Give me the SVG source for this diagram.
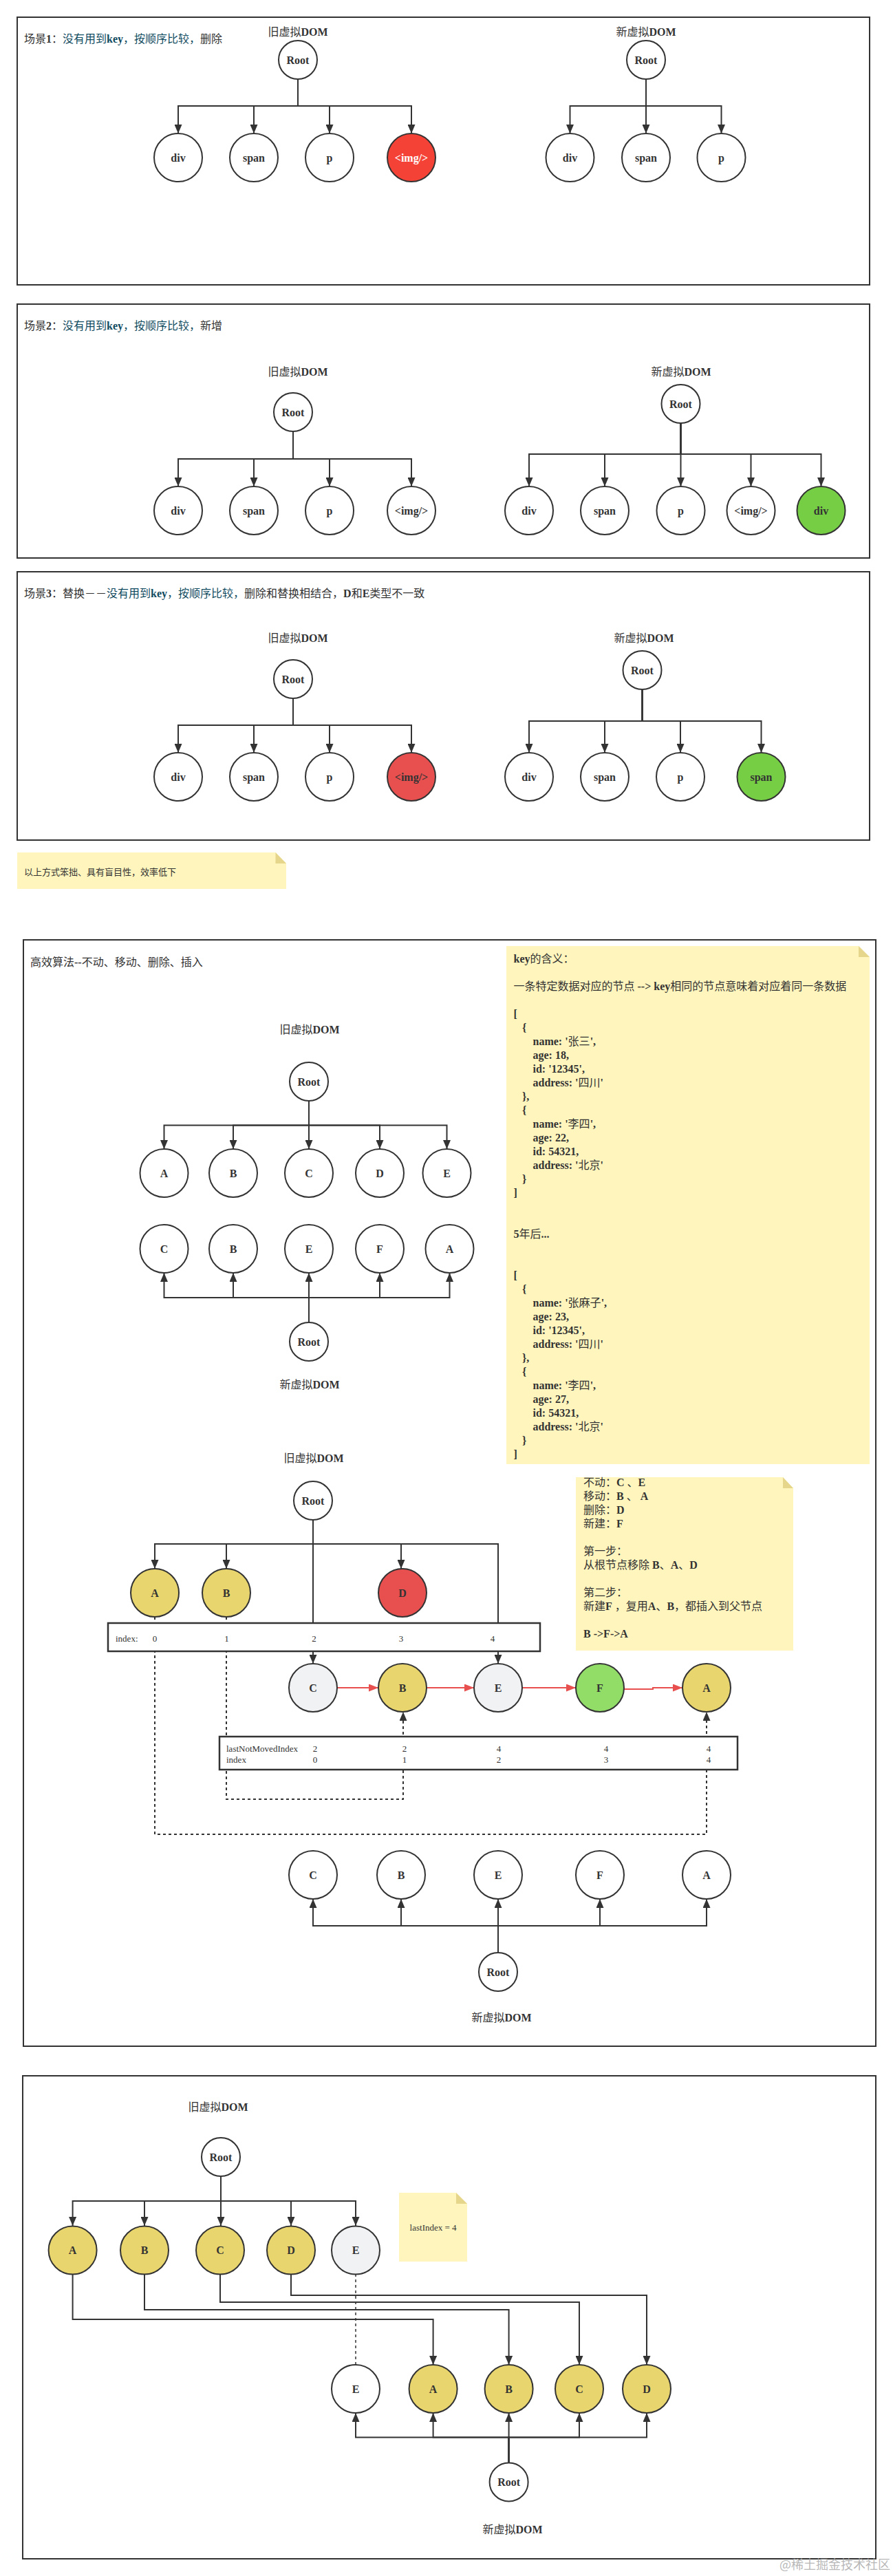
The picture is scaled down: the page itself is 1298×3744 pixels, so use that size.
<svg xmlns="http://www.w3.org/2000/svg" width="1298" height="3744" viewBox="0 0 1298 3744">
<style>
text{font-family:"Liberation Serif","Noto Sans CJK SC",serif;font-size:16px;fill:#333}
.b{font-weight:bold}
.m{text-anchor:middle}
.s{font-size:13px}
.t{fill:#114b5f}
.fr{fill:#fff;stroke:#333;stroke-width:2}
.box{fill:#fff;stroke:#333;stroke-width:2.5}
.n{fill:#fff;stroke:#333;stroke-width:2}
.y{fill:#e8d56e}
.r{fill:#e85050}
.r0{fill:#f44336}
.g{fill:#76ce45}
.g2{fill:#92dc68}
.e{fill:#f1f2f3}
.note{fill:#fff5bd}
.fold{fill:#e6d68c}
.c path{fill:none;stroke:#333;stroke-width:2}
.c .a{marker-end:url(#ah)}
.c .d{stroke-dasharray:4 4}
.c .rd{stroke:#e85050;marker-end:url(#rh)}
</style>
<defs>
<marker id="ah" markerUnits="userSpaceOnUse" markerWidth="13" markerHeight="11" refX="13" refY="5.5" orient="auto"><path d="M0 0L13 5.5L0 11z" fill="#333"/></marker>
<marker id="rh" markerUnits="userSpaceOnUse" markerWidth="14" markerHeight="11" refX="14" refY="5.5" orient="auto"><path d="M0 0L14 5.5L0 11z" fill="#e85050"/></marker>
</defs>
<rect width="1298" height="3744" fill="#fff"/>
<g id="frames">
<rect class="fr" x="25" y="25" width="1239" height="389"/>
<rect class="fr" x="25" y="442" width="1239" height="369"/>
<rect class="fr" x="25" y="831" width="1239" height="390"/>
<rect class="fr" x="34" y="1366" width="1239" height="1608"/>
<rect class="fr" x="33" y="3017" width="1240" height="702"/>
</g>
<g id="titles">
<text x="35" y="62">场景<tspan class="b">1</tspan>：<tspan class="t">没有用到<tspan class="b">key</tspan>，按顺序比较，</tspan>删除</text>
<text x="35" y="479">场景<tspan class="b">2</tspan>：<tspan class="t">没有用到<tspan class="b">key</tspan>，按顺序比较，</tspan>新增</text>
<text x="35" y="868">场景<tspan class="b">3</tspan>：替换－－<tspan class="t">没有用到<tspan class="b">key</tspan>，按顺序比较，</tspan>删除和替换相结合，<tspan class="b">D</tspan>和<tspan class="b">E</tspan>类型不一致</text>
<text x="44" y="1404">高效算法<tspan class="b">--</tspan>不动、移动、删除、插入</text>
<text class="m" x="433" y="52">旧虚拟<tspan class="b">DOM</tspan></text>
<text class="m" x="939" y="52">新虚拟<tspan class="b">DOM</tspan></text>
<text class="m" x="433" y="546">旧虚拟<tspan class="b">DOM</tspan></text>
<text class="m" x="990" y="546">新虚拟<tspan class="b">DOM</tspan></text>
<text class="m" x="433" y="933">旧虚拟<tspan class="b">DOM</tspan></text>
<text class="m" x="936" y="933">新虚拟<tspan class="b">DOM</tspan></text>
<text class="m" x="450" y="1502">旧虚拟<tspan class="b">DOM</tspan></text>
<text class="m" x="450" y="2018">新虚拟<tspan class="b">DOM</tspan></text>
<text class="m" x="456" y="2125">旧虚拟<tspan class="b">DOM</tspan></text>
<text class="m" x="729" y="2938">新虚拟<tspan class="b">DOM</tspan></text>
<text class="m" x="317" y="3068">旧虚拟<tspan class="b">DOM</tspan></text>
<text class="m" x="745" y="3682">新虚拟<tspan class="b">DOM</tspan></text>
</g>
<g id="connectors" class="c">
<path class="a" d="M433 115V154H259V194"/><path class="a" d="M433 115V154H369V194"/><path class="a" d="M433 115V154H479V194"/><path class="a" d="M433 115V154H598V194"/>
<path class="a" d="M939 115V154H828.500V194"/><path class="a" d="M939 115V194"/><path class="a" d="M939 115V154H1048.500V194"/>
<path class="a" d="M426 627V667H259V707"/><path class="a" d="M426 627V667H369V707"/><path class="a" d="M426 627V667H479V707"/><path class="a" d="M426 627V667H598V707"/>
<path class="a" d="M989.500 615V660H769V707"/><path class="a" d="M989.500 615V660H879V707"/><path class="a" d="M989.500 615V707"/><path class="a" d="M989.500 615V660H1091.500V707"/><path class="a" d="M989.500 615V660H1193.500V707"/>
<path class="a" d="M426 1015V1054H259V1094"/><path class="a" d="M426 1015V1054H369V1094"/><path class="a" d="M426 1015V1054H479V1094"/><path class="a" d="M426 1015V1054H598V1094"/>
<path class="a" d="M933.500 1002V1048H769V1094"/><path class="a" d="M933.500 1002V1048H879V1094"/><path class="a" d="M933.500 1002V1048H989V1094"/><path class="a" d="M933.500 1002V1048H1106.500V1094"/>
<path class="a" d="M449 1600V1635.500H238.500V1670"/><path class="a" d="M449 1600V1635.500H339V1670"/><path class="a" d="M449 1600V1670"/><path class="a" d="M449 1600V1635.500H552V1670"/><path class="a" d="M449 1600V1635.500H649.500V1670"/>
<path class="a" d="M449 1922V1886H238.500V1850"/><path class="a" d="M449 1922V1886H339V1850"/><path class="a" d="M449 1922V1850"/><path class="a" d="M449 1922V1886H552V1850"/><path class="a" d="M449 1922V1886H653.500V1850"/>
<path class="a" d="M455 2209V2244H225V2280"/><path class="a" d="M455 2209V2244H329V2280"/><path class="a" d="M455 2209V2418"/><path class="a" d="M455 2209V2244H583V2280"/><path class="a" d="M455 2209V2244H724V2418"/>
<path class="a d" d="M329 2350V2615H586V2488"/>
<path class="a d" d="M225 2350V2666H1027V2488"/>
<path class="rd" d="M490 2453H550"/><path class="rd" d="M620 2453H689"/><path class="rd" d="M759 2453H837"/><path class="rd" d="M907 2455H949V2453H992"/>
<path class="a" d="M724 2838V2799H455V2760"/><path class="a" d="M724 2838V2799H583V2760"/><path class="a" d="M724 2838V2760"/><path class="a" d="M724 2838V2799H872V2760"/><path class="a" d="M724 2838V2799H1027V2760"/>
<path class="a" d="M321 3163V3199H105.600V3235"/><path class="a" d="M321 3163V3199H210V3235"/><path class="a" d="M321 3163V3235"/><path class="a" d="M321 3163V3199H423V3235"/><path class="a" d="M321 3163V3199H517V3235"/>
<path class="a" d="M105.600 3305V3371H629.600V3437"/><path class="a" d="M210 3305V3357H739.600V3437"/><path class="a" d="M320 3305V3346H842V3437"/><path class="a" d="M423 3305V3336H940V3437"/>
<path class="d" d="M517 3305V3437" style="stroke-width:1.5"/>
<path class="a" d="M739.600 3579V3542.500H517V3507"/><path class="a" d="M739.600 3579V3542.500H629.600V3507"/><path class="a" d="M739.600 3579V3507"/><path class="a" d="M739.600 3579V3542.500H842V3507"/><path class="a" d="M739.600 3579V3542.500H940V3507"/>
</g>
<g id="s1-old-root"><circle class="n" cx="433" cy="87" r="28"/><text class="b m" x="433" y="92.500">Root</text></g>
<g id="s1-old-div"><circle class="n" cx="259" cy="229" r="35"/><text class="b m" x="259" y="234.500">div</text></g>
<g id="s1-old-span"><circle class="n" cx="369" cy="229" r="35"/><text class="b m" x="369" y="234.500">span</text></g>
<g id="s1-old-p"><circle class="n" cx="479" cy="229" r="35"/><text class="b m" x="479" y="234.500">p</text></g>
<g id="s1-old-img"><circle class="n r0" cx="598" cy="229" r="35"/><text class="b m" style="fill:#fff" x="598" y="234.500">&lt;img/&gt;</text></g>
<g id="s1-new-root"><circle class="n" cx="939" cy="87" r="28"/><text class="b m" x="939" y="92.500">Root</text></g>
<g id="s1-new-div"><circle class="n" cx="828.500" cy="229" r="35"/><text class="b m" x="828.500" y="234.500">div</text></g>
<g id="s1-new-span"><circle class="n" cx="939" cy="229" r="35"/><text class="b m" x="939" y="234.500">span</text></g>
<g id="s1-new-p"><circle class="n" cx="1048.500" cy="229" r="35"/><text class="b m" x="1048.500" y="234.500">p</text></g>
<g id="s2-old-root"><circle class="n" cx="426" cy="599" r="28"/><text class="b m" x="426" y="604.500">Root</text></g>
<g id="s2-old-div"><circle class="n" cx="259" cy="742" r="35"/><text class="b m" x="259" y="747.500">div</text></g>
<g id="s2-old-span"><circle class="n" cx="369" cy="742" r="35"/><text class="b m" x="369" y="747.500">span</text></g>
<g id="s2-old-p"><circle class="n" cx="479" cy="742" r="35"/><text class="b m" x="479" y="747.500">p</text></g>
<g id="s2-old-img"><circle class="n" cx="598" cy="742" r="35"/><text class="b m" x="598" y="747.500">&lt;img/&gt;</text></g>
<g id="s2-new-root"><circle class="n" cx="989.500" cy="587" r="28"/><text class="b m" x="989.500" y="592.500">Root</text></g>
<g id="s2-new-div"><circle class="n" cx="769" cy="742" r="35"/><text class="b m" x="769" y="747.500">div</text></g>
<g id="s2-new-span"><circle class="n" cx="879" cy="742" r="35"/><text class="b m" x="879" y="747.500">span</text></g>
<g id="s2-new-p"><circle class="n" cx="989.500" cy="742" r="35"/><text class="b m" x="989.500" y="747.500">p</text></g>
<g id="s2-new-img"><circle class="n" cx="1091.500" cy="742" r="35"/><text class="b m" x="1091.500" y="747.500">&lt;img/&gt;</text></g>
<g id="s2-new-div2"><circle class="n g" cx="1193.500" cy="742" r="35"/><text class="b m" x="1193.500" y="747.500">div</text></g>
<g id="s3-old-root"><circle class="n" cx="426" cy="987" r="28"/><text class="b m" x="426" y="992.500">Root</text></g>
<g id="s3-old-div"><circle class="n" cx="259" cy="1129" r="35"/><text class="b m" x="259" y="1134.500">div</text></g>
<g id="s3-old-span"><circle class="n" cx="369" cy="1129" r="35"/><text class="b m" x="369" y="1134.500">span</text></g>
<g id="s3-old-p"><circle class="n" cx="479" cy="1129" r="35"/><text class="b m" x="479" y="1134.500">p</text></g>
<g id="s3-old-img"><circle class="n r" cx="598" cy="1129" r="35"/><text class="b m" x="598" y="1134.500">&lt;img/&gt;</text></g>
<g id="s3-new-root"><circle class="n" cx="933.500" cy="974" r="28"/><text class="b m" x="933.500" y="979.500">Root</text></g>
<g id="s3-new-div"><circle class="n" cx="769" cy="1129" r="35"/><text class="b m" x="769" y="1134.500">div</text></g>
<g id="s3-new-span"><circle class="n" cx="879" cy="1129" r="35"/><text class="b m" x="879" y="1134.500">span</text></g>
<g id="s3-new-p"><circle class="n" cx="989" cy="1129" r="35"/><text class="b m" x="989" y="1134.500">p</text></g>
<g id="s3-new-span2"><circle class="n g" cx="1106.500" cy="1129" r="35"/><text class="b m" x="1106.500" y="1134.500">span</text></g>
<g id="note-summary"><path class="note" d="M25 1239H400.500L416 1255V1292H25z"/><path class="fold" d="M400.500 1239L416 1255H400.500z"/><text class="s" x="35" y="1271.500">以上方式笨拙、具有盲目性，效率低下</text></g>
<g id="a-old-root"><circle class="n" cx="449" cy="1572" r="28"/><text class="b m" x="449" y="1577.500">Root</text></g>
<g id="a-old-A"><circle class="n" cx="238.500" cy="1705" r="35"/><text class="b m" x="238.500" y="1710.500">A</text></g>
<g id="a-old-B"><circle class="n" cx="339" cy="1705" r="35"/><text class="b m" x="339" y="1710.500">B</text></g>
<g id="a-old-C"><circle class="n" cx="449" cy="1705" r="35"/><text class="b m" x="449" y="1710.500">C</text></g>
<g id="a-old-D"><circle class="n" cx="552" cy="1705" r="35"/><text class="b m" x="552" y="1710.500">D</text></g>
<g id="a-old-E"><circle class="n" cx="649.500" cy="1705" r="35"/><text class="b m" x="649.500" y="1710.500">E</text></g>
<g id="a-new-C"><circle class="n" cx="238.500" cy="1815" r="35"/><text class="b m" x="238.500" y="1820.500">C</text></g>
<g id="a-new-B"><circle class="n" cx="339" cy="1815" r="35"/><text class="b m" x="339" y="1820.500">B</text></g>
<g id="a-new-E"><circle class="n" cx="449" cy="1815" r="35"/><text class="b m" x="449" y="1820.500">E</text></g>
<g id="a-new-F"><circle class="n" cx="552" cy="1815" r="35"/><text class="b m" x="552" y="1820.500">F</text></g>
<g id="a-new-A"><circle class="n" cx="653.500" cy="1815" r="35"/><text class="b m" x="653.500" y="1820.500">A</text></g>
<g id="a-new-root"><circle class="n" cx="449" cy="1950" r="28"/><text class="b m" x="449" y="1955.500">Root</text></g>
<g id="note-key"><path class="note" d="M736 1375H1248L1264 1391V2128H736z"/><path class="fold" d="M1248 1375L1264 1391H1248z"/>
<text x="746.500" y="1398.500"><tspan class="b">key</tspan>的含义：</text>
<text x="746.500" y="1438.500">一条特定数据对应的节点 <tspan class="b">--&gt; key</tspan>相同的节点意味着对应着同一条数据</text>
<text class="b" x="746.500" y="1478.500">[</text>
<text class="b" x="759" y="1498.500">{</text>
<text x="774.500" y="1518.500"><tspan class="b">name: '</tspan>张三<tspan class="b">',</tspan></text>
<text class="b" x="774.500" y="1538.500">age: 18,</text>
<text class="b" x="774.500" y="1558.500">id: '12345',</text>
<text x="774.500" y="1578.500"><tspan class="b">address: '</tspan>四川<tspan class="b">'</tspan></text>
<text class="b" x="759" y="1598.500">},</text>
<text class="b" x="759" y="1618.500">{</text>
<text x="774.500" y="1638.500"><tspan class="b">name: '</tspan>李四<tspan class="b">',</tspan></text>
<text class="b" x="774.500" y="1658.500">age: 22,</text>
<text class="b" x="774.500" y="1678.500">id: 54321,</text>
<text x="774.500" y="1698.500"><tspan class="b">address: '</tspan>北京<tspan class="b">'</tspan></text>
<text class="b" x="759" y="1718.500">}</text>
<text class="b" x="746.500" y="1738.500">]</text>
<text x="746.500" y="1798.500"><tspan class="b">5</tspan>年后<tspan class="b">...</tspan></text>
<text class="b" x="746.500" y="1858.500">[</text>
<text class="b" x="759" y="1878.500">{</text>
<text x="774.500" y="1898.500"><tspan class="b">name: '</tspan>张麻子<tspan class="b">',</tspan></text>
<text class="b" x="774.500" y="1918.500">age: 23,</text>
<text class="b" x="774.500" y="1938.500">id: '12345',</text>
<text x="774.500" y="1958.500"><tspan class="b">address: '</tspan>四川<tspan class="b">'</tspan></text>
<text class="b" x="759" y="1978.500">},</text>
<text class="b" x="759" y="1998.500">{</text>
<text x="774.500" y="2018.500"><tspan class="b">name: '</tspan>李四<tspan class="b">',</tspan></text>
<text class="b" x="774.500" y="2038.500">age: 27,</text>
<text class="b" x="774.500" y="2058.500">id: 54321,</text>
<text x="774.500" y="2078.500"><tspan class="b">address: '</tspan>北京<tspan class="b">'</tspan></text>
<text class="b" x="759" y="2098.500">}</text>
<text class="b" x="746.500" y="2118.500">]</text>
</g>
<g id="b-old-root"><circle class="n" cx="455" cy="2181" r="28"/><text class="b m" x="455" y="2186.500">Root</text></g>
<g id="b-old-A"><circle class="n y" cx="225" cy="2315" r="35"/><text class="b m" x="225" y="2320.500">A</text></g>
<g id="b-old-B"><circle class="n y" cx="329" cy="2315" r="35"/><text class="b m" x="329" y="2320.500">B</text></g>
<g id="b-old-D"><circle class="n r" cx="585" cy="2315" r="35"/><text class="b m" x="585" y="2320.500">D</text></g>
<g id="index-box"><rect class="box" x="157" y="2359" width="628" height="41"/>
<text class="s" x="168" y="2385.500">index:</text><text class="s m" x="225" y="2385.500">0</text><text class="s m" x="329.500" y="2385.500">1</text><text class="s m" x="456.500" y="2385.500">2</text><text class="s m" x="583" y="2385.500">3</text><text class="s m" x="716" y="2385.500">4</text></g>
<g id="b-mid-C"><circle class="n e" cx="455" cy="2453" r="35"/><text class="b m" x="455" y="2458.500">C</text></g>
<g id="b-mid-B"><circle class="n y" cx="585" cy="2453" r="35"/><text class="b m" x="585" y="2458.500">B</text></g>
<g id="b-mid-E"><circle class="n e" cx="724" cy="2453" r="35"/><text class="b m" x="724" y="2458.500">E</text></g>
<g id="b-mid-F"><circle class="n g2" cx="872" cy="2453" r="35"/><text class="b m" x="872" y="2458.500">F</text></g>
<g id="b-mid-A"><circle class="n y" cx="1027" cy="2453" r="35"/><text class="b m" x="1027" y="2458.500">A</text></g>
<g id="last-box"><rect class="box" x="319" y="2524" width="753" height="48"/>
<text class="s" x="329" y="2545.500">lastNotMovedIndex</text><text class="s" x="329" y="2561.500">index</text>
<text class="s m" x="458" y="2545.500">2</text><text class="s m" x="458" y="2561.500">0</text>
<text class="s m" x="588" y="2545.500">2</text><text class="s m" x="588" y="2561.500">1</text>
<text class="s m" x="725" y="2545.500">4</text><text class="s m" x="725" y="2561.500">2</text>
<text class="s m" x="881" y="2545.500">4</text><text class="s m" x="881" y="2561.500">3</text>
<text class="s m" x="1030" y="2545.500">4</text><text class="s m" x="1030" y="2561.500">4</text></g>
<g id="note-steps"><path class="note" d="M837 2147H1138L1153 2163V2399H837z"/><path class="fold" d="M1138 2147L1153 2163H1138z"/>
<text x="848" y="2160">不动：<tspan class="b">C</tspan> 、<tspan class="b">E</tspan></text>
<text x="848" y="2180">移动：<tspan class="b">B</tspan> 、 <tspan class="b">A</tspan></text>
<text x="848" y="2200">删除：<tspan class="b">D</tspan></text>
<text x="848" y="2220">新建：<tspan class="b">F</tspan></text>
<text x="848" y="2260">第一步：</text>
<text x="848" y="2280">从根节点移除 <tspan class="b">B</tspan>、<tspan class="b">A</tspan>、<tspan class="b">D</tspan></text>
<text x="848" y="2320">第二步：</text>
<text x="848" y="2340">新建<tspan class="b">F</tspan> ，复用<tspan class="b">A</tspan>、<tspan class="b">B</tspan>，都插入到父节点</text>
<text class="b" x="848" y="2380">B -&gt;F-&gt;A</text>
</g>
<g id="b-new-C"><circle class="n" cx="455" cy="2725" r="35"/><text class="b m" x="455" y="2730.500">C</text></g>
<g id="b-new-B"><circle class="n" cx="583" cy="2725" r="35"/><text class="b m" x="583" y="2730.500">B</text></g>
<g id="b-new-E"><circle class="n" cx="724" cy="2725" r="35"/><text class="b m" x="724" y="2730.500">E</text></g>
<g id="b-new-F"><circle class="n" cx="872" cy="2725" r="35"/><text class="b m" x="872" y="2730.500">F</text></g>
<g id="b-new-A"><circle class="n" cx="1027" cy="2725" r="35"/><text class="b m" x="1027" y="2730.500">A</text></g>
<g id="b-new-root"><circle class="n" cx="724" cy="2866" r="28"/><text class="b m" x="724" y="2871.500">Root</text></g>
<g id="c-old-root"><circle class="n" cx="321" cy="3135" r="28"/><text class="b m" x="321" y="3140.500">Root</text></g>
<g id="c-old-A"><circle class="n y" cx="105.600" cy="3270.500" r="35"/><text class="b m" x="105.600" y="3276">A</text></g>
<g id="c-old-B"><circle class="n y" cx="210" cy="3270.500" r="35"/><text class="b m" x="210" y="3276">B</text></g>
<g id="c-old-C"><circle class="n y" cx="320" cy="3270.500" r="35"/><text class="b m" x="320" y="3276">C</text></g>
<g id="c-old-D"><circle class="n y" cx="423" cy="3270.500" r="35"/><text class="b m" x="423" y="3276">D</text></g>
<g id="c-old-E"><circle class="n e" cx="517" cy="3270.500" r="35"/><text class="b m" x="517" y="3276">E</text></g>
<g id="note-last"><path class="note" d="M580 3187H663L679 3203V3287H580z"/><path class="fold" d="M663 3187L679 3203H663z"/><text class="s m" x="629.600" y="3241.500">lastIndex = 4</text></g>
<g id="c-new-E"><circle class="n" cx="517" cy="3472" r="35"/><text class="b m" x="517" y="3477.500">E</text></g>
<g id="c-new-A"><circle class="n y" cx="629.600" cy="3472" r="35"/><text class="b m" x="629.600" y="3477.500">A</text></g>
<g id="c-new-B"><circle class="n y" cx="739.600" cy="3472" r="35"/><text class="b m" x="739.600" y="3477.500">B</text></g>
<g id="c-new-C"><circle class="n y" cx="842" cy="3472" r="35"/><text class="b m" x="842" y="3477.500">C</text></g>
<g id="c-new-D"><circle class="n y" cx="940" cy="3472" r="35"/><text class="b m" x="940" y="3477.500">D</text></g>
<g id="c-new-root"><circle class="n" cx="739.600" cy="3607.500" r="28"/><text class="b m" x="739.600" y="3613">Root</text></g>
<text id="watermark" x="1133" y="3734" style="font-family:'Noto Sans CJK SC','Liberation Sans',sans-serif;font-size:18px;fill:#aaa;fill-opacity:.85">@稀土掘金技术社区</text>
</svg>
